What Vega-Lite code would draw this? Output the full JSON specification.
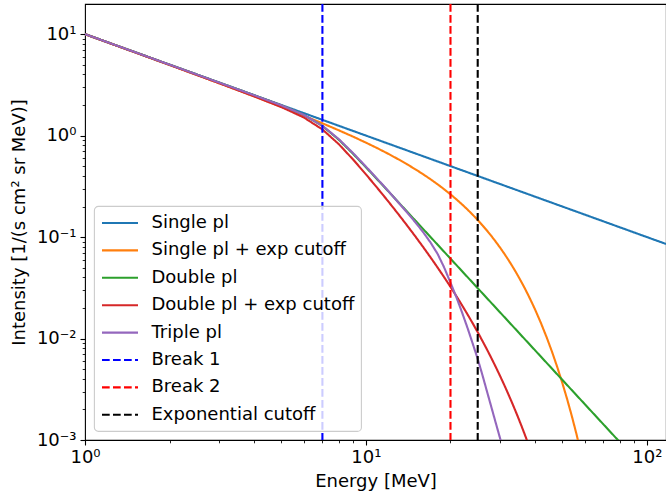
{
  "$schema": "https://vega.github.io/schema/vega-lite/v6.json",
  "width": 581,
  "height": 436,
  "autosize": {"type": "none"},
  "padding": {"left": 85, "top": 4, "right": 0, "bottom": 55},
  "background": "white",
  "datasets": {
    "curves": [
      {"s": "Single pl", "E": 1, "I": 10},
      {"s": "Single pl", "E": 2, "I": 5},
      {"s": "Single pl", "E": 3, "I": 3.333},
      {"s": "Single pl", "E": 4, "I": 2.5},
      {"s": "Single pl", "E": 5, "I": 2},
      {"s": "Single pl", "E": 6, "I": 1.667},
      {"s": "Single pl", "E": 7, "I": 1.429},
      {"s": "Single pl", "E": 8, "I": 1.25},
      {"s": "Single pl", "E": 9, "I": 1.111},
      {"s": "Single pl", "E": 10, "I": 1},
      {"s": "Single pl", "E": 12, "I": 0.8333},
      {"s": "Single pl", "E": 15, "I": 0.6667},
      {"s": "Single pl", "E": 20, "I": 0.5},
      {"s": "Single pl", "E": 25, "I": 0.4},
      {"s": "Single pl", "E": 30, "I": 0.3333},
      {"s": "Single pl", "E": 40, "I": 0.25},
      {"s": "Single pl", "E": 50, "I": 0.2},
      {"s": "Single pl", "E": 60, "I": 0.1667},
      {"s": "Single pl", "E": 70, "I": 0.1429},
      {"s": "Single pl", "E": 80, "I": 0.125},
      {"s": "Single pl", "E": 90, "I": 0.1111},
      {"s": "Single pl", "E": 100, "I": 0.1},
      {"s": "Single pl", "E": 117, "I": 0.08547},

      {"s": "Single pl + exp cutoff", "E": 1, "I": 9.984},
      {"s": "Single pl + exp cutoff", "E": 2, "I": 4.968},
      {"s": "Single pl + exp cutoff", "E": 3, "I": 3.286},
      {"s": "Single pl + exp cutoff", "E": 4, "I": 2.437},
      {"s": "Single pl + exp cutoff", "E": 5, "I": 1.922},
      {"s": "Single pl + exp cutoff", "E": 6, "I": 1.573},
      {"s": "Single pl + exp cutoff", "E": 7, "I": 1.321},
      {"s": "Single pl + exp cutoff", "E": 8, "I": 1.128},
      {"s": "Single pl + exp cutoff", "E": 9, "I": 0.976},
      {"s": "Single pl + exp cutoff", "E": 10, "I": 0.8521},
      {"s": "Single pl + exp cutoff", "E": 11, "I": 0.7491},
      {"s": "Single pl + exp cutoff", "E": 12, "I": 0.6619},
      {"s": "Single pl + exp cutoff", "E": 13, "I": 0.587},
      {"s": "Single pl + exp cutoff", "E": 14, "I": 0.522},
      {"s": "Single pl + exp cutoff", "E": 15, "I": 0.4651},
      {"s": "Single pl + exp cutoff", "E": 16, "I": 0.415},
      {"s": "Single pl + exp cutoff", "E": 17, "I": 0.3705},
      {"s": "Single pl + exp cutoff", "E": 18, "I": 0.3308},
      {"s": "Single pl + exp cutoff", "E": 19, "I": 0.2954},
      {"s": "Single pl + exp cutoff", "E": 20, "I": 0.2636},
      {"s": "Single pl + exp cutoff", "E": 21, "I": 0.2352},
      {"s": "Single pl + exp cutoff", "E": 22, "I": 0.2095},
      {"s": "Single pl + exp cutoff", "E": 23, "I": 0.1865},
      {"s": "Single pl + exp cutoff", "E": 24, "I": 0.1658},
      {"s": "Single pl + exp cutoff", "E": 25, "I": 0.1472},
      {"s": "Single pl + exp cutoff", "E": 26, "I": 0.1304},
      {"s": "Single pl + exp cutoff", "E": 27, "I": 0.1154},
      {"s": "Single pl + exp cutoff", "E": 28, "I": 0.1019},
      {"s": "Single pl + exp cutoff", "E": 29, "I": 0.08979},
      {"s": "Single pl + exp cutoff", "E": 30, "I": 0.07898},
      {"s": "Single pl + exp cutoff", "E": 31, "I": 0.06933},
      {"s": "Single pl + exp cutoff", "E": 32, "I": 0.06072},
      {"s": "Single pl + exp cutoff", "E": 33, "I": 0.05306},
      {"s": "Single pl + exp cutoff", "E": 34, "I": 0.04626},
      {"s": "Single pl + exp cutoff", "E": 35, "I": 0.04025},
      {"s": "Single pl + exp cutoff", "E": 36, "I": 0.03493},
      {"s": "Single pl + exp cutoff", "E": 37, "I": 0.03024},
      {"s": "Single pl + exp cutoff", "E": 38, "I": 0.02611},
      {"s": "Single pl + exp cutoff", "E": 39, "I": 0.02249},
      {"s": "Single pl + exp cutoff", "E": 40, "I": 0.01933},
      {"s": "Single pl + exp cutoff", "E": 42, "I": 0.01416},
      {"s": "Single pl + exp cutoff", "E": 44, "I": 0.01026},
      {"s": "Single pl + exp cutoff", "E": 46, "I": 0.007361},
      {"s": "Single pl + exp cutoff", "E": 48, "I": 0.005219},
      {"s": "Single pl + exp cutoff", "E": 50, "I": 0.003663},
      {"s": "Single pl + exp cutoff", "E": 52, "I": 0.002542},
      {"s": "Single pl + exp cutoff", "E": 54, "I": 0.001743},
      {"s": "Single pl + exp cutoff", "E": 56, "I": 0.001182},
      {"s": "Single pl + exp cutoff", "E": 58, "I": 0.000792},

      {"s": "Double pl", "E": 1, "I": 10},
      {"s": "Double pl", "E": 2, "I": 5},
      {"s": "Double pl", "E": 3, "I": 3.333},
      {"s": "Double pl", "E": 4, "I": 2.498},
      {"s": "Double pl", "E": 5, "I": 1.986},
      {"s": "Double pl", "E": 6, "I": 1.603},
      {"s": "Double pl", "E": 7, "I": 1.244},
      {"s": "Double pl", "E": 8, "I": 0.9134},
      {"s": "Double pl", "E": 9, "I": 0.6618},
      {"s": "Double pl", "E": 10, "I": 0.4873},
      {"s": "Double pl", "E": 11, "I": 0.3674},
      {"s": "Double pl", "E": 12, "I": 0.2836},
      {"s": "Double pl", "E": 13, "I": 0.223},
      {"s": "Double pl", "E": 14, "I": 0.1786},
      {"s": "Double pl", "E": 15, "I": 0.1452},
      {"s": "Double pl", "E": 16, "I": 0.1196},
      {"s": "Double pl", "E": 17, "I": 0.09974},
      {"s": "Double pl", "E": 18, "I": 0.08402},
      {"s": "Double pl", "E": 19, "I": 0.07144},
      {"s": "Double pl", "E": 20, "I": 0.06125},
      {"s": "Double pl", "E": 22, "I": 0.04602},
      {"s": "Double pl", "E": 24, "I": 0.03545},
      {"s": "Double pl", "E": 26, "I": 0.02788},
      {"s": "Double pl", "E": 28, "I": 0.02232},
      {"s": "Double pl", "E": 30, "I": 0.01815},
      {"s": "Double pl", "E": 35, "I": 0.01143},
      {"s": "Double pl", "E": 40, "I": 0.007656},
      {"s": "Double pl", "E": 45, "I": 0.005377},
      {"s": "Double pl", "E": 50, "I": 0.00392},
      {"s": "Double pl", "E": 55, "I": 0.002945},
      {"s": "Double pl", "E": 60, "I": 0.002269},
      {"s": "Double pl", "E": 70, "I": 0.001429},
      {"s": "Double pl", "E": 80, "I": 0.000957},

      {"s": "Double pl + exp cutoff", "E": 1, "I": 9.984},
      {"s": "Double pl + exp cutoff", "E": 2, "I": 4.968},
      {"s": "Double pl + exp cutoff", "E": 3, "I": 3.286},
      {"s": "Double pl + exp cutoff", "E": 4, "I": 2.435},
      {"s": "Double pl + exp cutoff", "E": 5, "I": 1.908},
      {"s": "Double pl + exp cutoff", "E": 6, "I": 1.513},
      {"s": "Double pl + exp cutoff", "E": 7, "I": 1.15},
      {"s": "Double pl + exp cutoff", "E": 8, "I": 0.8245},
      {"s": "Double pl + exp cutoff", "E": 9, "I": 0.5813},
      {"s": "Double pl + exp cutoff", "E": 10, "I": 0.4152},
      {"s": "Double pl + exp cutoff", "E": 11, "I": 0.3027},
      {"s": "Double pl + exp cutoff", "E": 12, "I": 0.2252},
      {"s": "Double pl + exp cutoff", "E": 13, "I": 0.1702},
      {"s": "Double pl + exp cutoff", "E": 14, "I": 0.1305},
      {"s": "Double pl + exp cutoff", "E": 15, "I": 0.1013},
      {"s": "Double pl + exp cutoff", "E": 16, "I": 0.07941},
      {"s": "Double pl + exp cutoff", "E": 17, "I": 0.06281},
      {"s": "Double pl + exp cutoff", "E": 18, "I": 0.05003},
      {"s": "Double pl + exp cutoff", "E": 19, "I": 0.04009},
      {"s": "Double pl + exp cutoff", "E": 20, "I": 0.0323},
      {"s": "Double pl + exp cutoff", "E": 21, "I": 0.02613},
      {"s": "Double pl + exp cutoff", "E": 22, "I": 0.02121},
      {"s": "Double pl + exp cutoff", "E": 23, "I": 0.01728},
      {"s": "Double pl + exp cutoff", "E": 24, "I": 0.01411},
      {"s": "Double pl + exp cutoff", "E": 25, "I": 0.01154},
      {"s": "Double pl + exp cutoff", "E": 26, "I": 0.009453},
      {"s": "Double pl + exp cutoff", "E": 27, "I": 0.007754},
      {"s": "Double pl + exp cutoff", "E": 28, "I": 0.006367},
      {"s": "Double pl + exp cutoff", "E": 29, "I": 0.005231},
      {"s": "Double pl + exp cutoff", "E": 30, "I": 0.0043},
      {"s": "Double pl + exp cutoff", "E": 31, "I": 0.003535},
      {"s": "Double pl + exp cutoff", "E": 32, "I": 0.002906},
      {"s": "Double pl + exp cutoff", "E": 33, "I": 0.002387},
      {"s": "Double pl + exp cutoff", "E": 34, "I": 0.001961},
      {"s": "Double pl + exp cutoff", "E": 35, "I": 0.00161},
      {"s": "Double pl + exp cutoff", "E": 36, "I": 0.00132},
      {"s": "Double pl + exp cutoff", "E": 37, "I": 0.001082},
      {"s": "Double pl + exp cutoff", "E": 38, "I": 0.000886},
      {"s": "Double pl + exp cutoff", "E": 39, "I": 0.000725},

      {"s": "Triple pl", "E": 1, "I": 10},
      {"s": "Triple pl", "E": 2, "I": 5},
      {"s": "Triple pl", "E": 3, "I": 3.333},
      {"s": "Triple pl", "E": 4, "I": 2.498},
      {"s": "Triple pl", "E": 5, "I": 1.986},
      {"s": "Triple pl", "E": 6, "I": 1.605},
      {"s": "Triple pl", "E": 7, "I": 1.25},
      {"s": "Triple pl", "E": 8, "I": 0.925},
      {"s": "Triple pl", "E": 9, "I": 0.672},
      {"s": "Triple pl", "E": 10, "I": 0.495},
      {"s": "Triple pl", "E": 11, "I": 0.372},
      {"s": "Triple pl", "E": 12, "I": 0.2855},
      {"s": "Triple pl", "E": 13, "I": 0.2215},
      {"s": "Triple pl", "E": 14, "I": 0.1751},
      {"s": "Triple pl", "E": 15, "I": 0.1397},
      {"s": "Triple pl", "E": 16, "I": 0.1114},
      {"s": "Triple pl", "E": 17, "I": 0.08795},
      {"s": "Triple pl", "E": 18, "I": 0.06815},
      {"s": "Triple pl", "E": 19, "I": 0.05},
      {"s": "Triple pl", "E": 20, "I": 0.0355},
      {"s": "Triple pl", "E": 21, "I": 0.0255},
      {"s": "Triple pl", "E": 22, "I": 0.018},
      {"s": "Triple pl", "E": 23, "I": 0.0127},
      {"s": "Triple pl", "E": 24, "I": 0.0089},
      {"s": "Triple pl", "E": 25, "I": 0.0063},
      {"s": "Triple pl", "E": 26, "I": 0.00434},
      {"s": "Triple pl", "E": 27, "I": 0.00298},
      {"s": "Triple pl", "E": 28, "I": 0.00208},
      {"s": "Triple pl", "E": 29, "I": 0.001466},
      {"s": "Triple pl", "E": 30, "I": 0.00105},
      {"s": "Triple pl", "E": 31, "I": 0.000759}
    ],
    "breaks": [
      {"s": "Break 1", "E": 7},
      {"s": "Break 2", "E": 20},
      {"s": "Exponential cutoff", "E": 25}
    ]
  },
  "layer": [
    {
      "data": {"name": "curves"},
      "transform": [{"filter": "datum.s == 'Single pl' || datum.s == 'Single pl + exp cutoff'"}],
      "mark": {"type": "line", "strokeWidth": 2.1, "clip": true},
      "encoding": {
        "x": {
          "field": "E", "type": "quantitative",
          "scale": {"type": "log", "domain": [1, 117], "nice": false},
          "axis": {
            "orient": "bottom",
            "values": [1, 10, 100],
            "labelExpr": "datum.value > 50 ? '10²' : datum.value > 5 ? '10¹' : '10⁰'",
            "tickSize": 5,
            "labelPadding": 3,
            "labelFlush": false,
            "title": "Energy [MeV]",
            "titlePadding": 6
          }
        },
        "y": {
          "field": "I", "type": "quantitative",
          "scale": {"type": "log", "domain": [0.001, 19.8], "nice": false},
          "axis": {
            "orient": "left",
            "values": [0.001, 0.01, 0.1, 1, 10],
            "labelExpr": "datum.value > 5 ? '10¹' : datum.value > 0.5 ? '10⁰' : datum.value > 0.05 ? '10⁻¹' : datum.value > 0.005 ? '10⁻²' : '10⁻³'",
            "tickSize": 5,
            "labelPadding": 4,
            "labelFlush": false,
            "title": "Intensity [1/(s cm² sr MeV)]",
            "titlePadding": 8
          }
        },
        "color": {
          "field": "s", "type": "nominal",
          "scale": {
            "domain": ["Single pl", "Single pl + exp cutoff", "Double pl", "Double pl + exp cutoff", "Triple pl", "Break 1", "Break 2", "Exponential cutoff"],
            "range": ["#1f77b4", "#ff7f0e", "#2ca02c", "#d62728", "#9467bd", "#0000ff", "#ff0000", "#000000"]
          },
          "legend": {"title": null}
        },
        "strokeDash": {
          "field": "s", "type": "nominal",
          "scale": {
            "domain": ["Single pl", "Single pl + exp cutoff", "Double pl", "Double pl + exp cutoff", "Triple pl", "Break 1", "Break 2", "Exponential cutoff"],
            "range": [[1, 0], [1, 0], [1, 0], [1, 0], [1, 0], [7.7, 3.3], [7.7, 3.3], [7.7, 3.3]]
          },
          "legend": {"title": null}
        }
      }
    },
    {
      "data": {"name": "curves"},
      "transform": [{"filter": "datum.s == 'Double pl' || datum.s == 'Double pl + exp cutoff' || datum.s == 'Triple pl'"}],
      "mark": {"type": "line", "strokeWidth": 2.1, "clip": true},
      "encoding": {
        "x": {
          "field": "E", "type": "quantitative",
          "axis": {
            "orient": "bottom",
            "values": [2, 3, 4, 5, 6, 7, 8, 9, 20, 30, 40, 50, 60, 70, 80, 90],
            "labels": false, "tickSize": 2.8, "tickWidth": 0.85, "title": null
          }
        },
        "y": {
          "field": "I", "type": "quantitative",
          "axis": {
            "orient": "left",
            "values": [0.002, 0.003, 0.004, 0.005, 0.006, 0.007, 0.008, 0.009, 0.02, 0.03, 0.04, 0.05, 0.06, 0.07, 0.08, 0.09, 0.2, 0.3, 0.4, 0.5, 0.6, 0.7, 0.8, 0.9, 2, 3, 4, 5, 6, 7, 8, 9],
            "labels": false, "tickSize": 2.8, "tickWidth": 0.85, "title": null
          }
        },
        "color": {"field": "s", "type": "nominal"},
        "strokeDash": {"field": "s", "type": "nominal"}
      }
    },
    {
      "data": {"name": "breaks"},
      "mark": {"type": "rule", "strokeWidth": 2.1},
      "encoding": {
        "x": {"field": "E", "type": "quantitative", "axis": null},
        "color": {"field": "s", "type": "nominal"},
        "strokeDash": {"field": "s", "type": "nominal"}
      }
    }
  ],
  "resolve": {"axis": {"x": "independent", "y": "independent"}},
  "config": {
    "font": "DejaVu Sans",
    "view": {"stroke": "#000000", "strokeWidth": 1.1},
    "axis": {
      "domain": false,
      "grid": false,
      "tickColor": "#000000",
      "tickWidth": 1.1,
      "labelFont": "DejaVu Sans",
      "labelFontSize": 18,
      "labelColor": "#000000",
      "titleFont": "DejaVu Sans",
      "titleFontSize": 18,
      "titleFontWeight": "normal",
      "titleColor": "#000000"
    },
    "legend": {
      "orient": "bottom-left",
      "offset": 9,
      "padding": 6.5,
      "fillColor": "rgba(255,255,255,0.8)",
      "strokeColor": "#cccccc",
      "strokeWidth": 1.1,
      "cornerRadius": 4,
      "labelFont": "DejaVu Sans",
      "labelFontSize": 18,
      "labelColor": "#000000",
      "labelLimit": 400,
      "labelOffset": 30,
      "rowPadding": 7.4,
      "symbolType": "M-1,0H3",
      "symbolSize": 324,
      "symbolStrokeWidth": 2.1
    }
  }
}
